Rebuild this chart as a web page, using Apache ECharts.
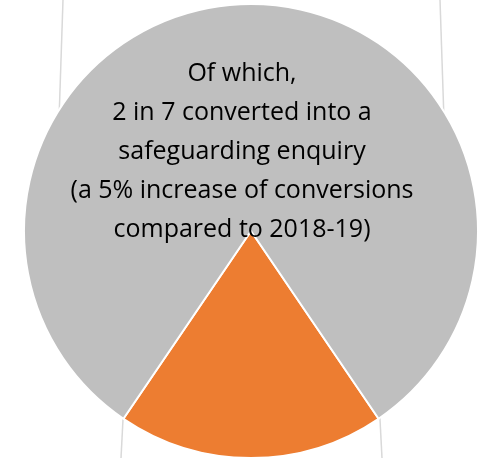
<!DOCTYPE html>
<html>
<head>
    <meta charset="utf-8">
    <title>Conversions</title>
    <script src="https://cdn.jsdelivr.net/npm/echarts@6/dist/echarts.min.js"></script>
    <style>
        html, body { margin: 0; padding: 0; background: #fff; }
        #chart1 { width: 480px; height: 458px; }
    </style>
</head>
<body>
<div id="chart1"></div>
<script>
    // 数据
    var categories = ['Converted into a safeguarding enquiry', 'Not converted'];
    var values = [19, 81];
    var colors = ['#ed7d31', '#bfbfbf'];
    var noteLines = [
        'Of which,',
        '2 in 7 converted into a',
        'safeguarding enquiry',
        '(a 5% increase of conversions',
        'compared to 2018-19)'
    ];

    var myChart1 = echarts.init(document.getElementById('chart1'));

    // 饼图起始角度：橙色扇区以正下方为中心
    var orangeShare = values[0] / (values[0] + values[1]);
    var startAngle = 270 + orangeShare * 360 / 2;

    var lineStyle = { stroke: '#d9d9d9', lineWidth: 1.5 };

    myChart1.setOption({
        animation: false,
        backgroundColor: '#fff',
        graphic: [
            // 连接线（上方与下方）
            { type: 'line', z: -10, shape: { x1: 63, y1: 0, x2: 59, y2: 120 }, style: lineStyle },
            { type: 'line', z: -10, shape: { x1: 440, y1: 0, x2: 444, y2: 120 }, style: lineStyle },
            { type: 'line', z: -10, shape: { x1: 124, y1: 400, x2: 121, y2: 458 }, style: lineStyle },
            { type: 'line', z: -10, shape: { x1: 379, y1: 400, x2: 382, y2: 458 }, style: lineStyle },
            {
                type: 'text',
                z: 100,
                x: 242,
                y: 152,
                style: {
                    text: noteLines.join('\n'),
                    fill: '#000',
                    font: '25px "Open Sans"',
                    lineHeight: 39,
                    align: 'center',
                    verticalAlign: 'middle'
                }
            }
        ],
        series: [{
            type: 'pie',
            center: [251, 231],
            radius: 227,
            startAngle: startAngle,
            clockwise: true,
            label: { show: false },
            labelLine: { show: false },
            emphasis: { disabled: true },
            itemStyle: { borderColor: '#fff', borderWidth: 2 },
            data: categories.map(function (name, i) {
                return { name: name, value: values[i], itemStyle: { color: colors[i] } };
            })
        }]
    });
</script>
</body>
</html>
